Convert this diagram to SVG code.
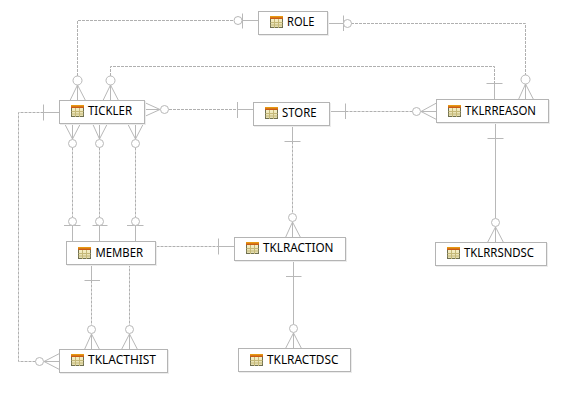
<svg xmlns="http://www.w3.org/2000/svg" width="570" height="411" viewBox="0 0 570 411">
<style>
.box{fill:#fff;stroke:#b4b4b4;stroke-width:1}
.sh{fill:#ececec}
.lbl{font-family:"Noto Sans","Liberation Sans",Arial,sans-serif;font-size:12.5px;fill:#000}
.s{fill:none;stroke:#b8b8b8;stroke-width:1}
.d{fill:none;stroke:#b0b0b0;stroke-width:1;stroke-dasharray:3 1}
.c{fill:#fff;stroke:#b8b8b8;stroke-width:1}
</style>
<defs>
<linearGradient id="hd" x1="0" y1="0" x2="0" y2="1"><stop offset="0" stop-color="#f0a810"/><stop offset="1" stop-color="#c04c18"/></linearGradient>
<linearGradient id="bd" x1="0" y1="0" x2="0" y2="1"><stop offset="0" stop-color="#fbf3c8"/><stop offset="1" stop-color="#e2dcb0"/></linearGradient>
<g id="icon">
<rect x="0.5" y="0.5" width="12" height="11" fill="url(#bd)" stroke="#6f6f50"/>
<rect x="0" y="0" width="13" height="3" fill="url(#hd)"/>
<path d="M0.5 6.5H12.5M0.5 9H12.5M4.5 3V12M8.5 3V12" fill="none" stroke="#c4b878" stroke-width="1"/>
</g>
</defs>
<rect width="570" height="411" fill="#fff"/>
<g id="connectors">
<path class="d" d="M77.5 76V20.5H234"/>
<path class="s" d="M242.5 13.5V28.5M242.5 20.5H258M77.5 85L70 100.5M77.5 85V100.5M77.5 85L85.5 100.5"/>
<circle class="c" cx="238" cy="20.5" r="4"/><circle class="c" cx="77.5" cy="80.5" r="4.5"/>
<path class="d" d="M110.5 76V66.5H494.5V83"/>
<path class="s" d="M486.5 83.5H502.5M494.5 83.5V99.5M110.5 85L103 100.5M110.5 85V100.5M110.5 85L118.5 100.5"/>
<circle class="c" cx="110.5" cy="80.5" r="4.5"/>
<path class="d" d="M351 23.5H525.5V75"/>
<path class="s" d="M327.5 23.5H343.5M343.5 15.5V31M525.5 84L518.5 99.5M525.5 84V99.5M525.5 84L533.5 99.5"/>
<circle class="c" cx="347.5" cy="23.5" r="4"/><circle class="c" cx="525.5" cy="79.5" r="4.5"/>
<path class="d" d="M169 109.5H237.5"/>
<path class="s" d="M144.5 102.5L160 109.5M144.5 109.5H160M144.5 116.5L160 109.5M237.5 102V118M237.5 109.5H253.5"/>
<circle class="c" cx="164.5" cy="109.5" r="4"/>
<path class="d" d="M345.5 111.5H412.5"/>
<path class="s" d="M329.5 111.5H345.5M345.5 103.5V119M421 111.5L436.5 103M421 111.5H436.5M421 111.5L436.5 119.5"/>
<circle class="c" cx="416.5" cy="111.5" r="4"/>
<path class="d" d="M43.5 112.5H18.5V361.5H35.5"/>
<path class="s" d="M43.5 104.5V120.5M43.5 112.5H59.5M44 361.5L59.5 353.5M44 361.5H59.5M44 361.5L59.5 369.5"/>
<circle class="c" cx="39.5" cy="361.5" r="4"/>
<path class="d" d="M72.5 147.5V217.5M99.5 147.5V217.5M135.5 147.5V217.5"/>
<path class="s" d="M72.5 139L64.5 123.5M72.5 139V123.5M72.5 139L80.5 123.5M99.5 139L92.5 123.5M99.5 139V123.5M99.5 139L107.5 123.5M135.5 139L127.5 123.5M135.5 139V123.5M135.5 139L143.5 123.5"/>
<path class="s" d="M64 225.5H80.5M72.5 225.5V241.5M92.5 225.5H107.5M99.5 225.5V241.5M127 225.5H143.5M135.5 225.5V241.5"/>
<circle class="c" cx="72.5" cy="143.5" r="4"/><circle class="c" cx="99.5" cy="143.5" r="4"/><circle class="c" cx="135.5" cy="143.5" r="4"/>
<circle class="c" cx="72.5" cy="221.5" r="4"/><circle class="c" cx="99.5" cy="221.5" r="4"/><circle class="c" cx="135.5" cy="221.5" r="4"/>
<path class="d" d="M156.5 246.5H218.5"/>
<path class="s" d="M218.5 238.5V254.5M218.5 246.5H234.5"/>
<path class="d" d="M91.5 280.5V325.5M129.5 264.5V325.5"/>
<path class="s" d="M91.5 264.5V280.5M84.5 280.5H100M91.5 334L84.5 349.5M91.5 334V349.5M91.5 334L99.5 349.5M129.5 334L121.5 349.5M129.5 334V349.5M129.5 334L137.5 349.5"/>
<circle class="c" cx="91.5" cy="329.5" r="4"/><circle class="c" cx="129.5" cy="329.5" r="4"/>
<path class="d" d="M292.5 141.5V213.5"/>
<path class="s" d="M292.5 125.5V141.5M284.5 141.5H300.5M292.5 222L285.5 237.5M292.5 222V237.5M292.5 222L300.5 237.5"/>
<circle class="c" cx="292.5" cy="217.5" r="4"/>
<path class="s" d="M495.5 122.5V218.5M487.5 138.5H503.5M495.5 227L487.5 242.5M495.5 227V242.5M495.5 227L503.5 242.5"/>
<circle class="c" cx="495.5" cy="222.5" r="4"/>
<path class="s" d="M293.5 260.5V324.5M286 276.5H301.5M293.5 333L285.5 348.5M293.5 333V348.5M293.5 333L301.5 348.5"/>
<circle class="c" cx="293.5" cy="328.5" r="4"/>
</g>
<g id="node-role"><rect class="sh" x="259" y="12" width="70" height="24"/><rect class="box" x="258.5" y="11.5" width="69" height="23"/><use href="#icon" x="270" y="16"/><text class="lbl" x="287" y="26" textLength="27.5" lengthAdjust="spacingAndGlyphs">ROLE</text></g>
<g id="node-tickler"><rect class="sh" x="60" y="101" width="86" height="24"/><rect class="box" x="59.5" y="100.5" width="85" height="23"/><use href="#icon" x="71" y="105"/><text class="lbl" x="88" y="115" textLength="44" lengthAdjust="spacingAndGlyphs">TICKLER</text></g>
<g id="node-store"><rect class="sh" x="254" y="103" width="77" height="24"/><rect class="box" x="253.5" y="102.5" width="76" height="23"/><use href="#icon" x="265" y="107"/><text class="lbl" x="282" y="117" textLength="34.5" lengthAdjust="spacingAndGlyphs">STORE</text></g>
<g id="node-tklrreason"><rect class="sh" x="437" y="100" width="113" height="24"/><rect class="box" x="436.5" y="99.5" width="112" height="23"/><use href="#icon" x="448" y="105"/><text class="lbl" x="465" y="115" textLength="71" lengthAdjust="spacingAndGlyphs">TKLRREASON</text></g>
<g id="node-member"><rect class="sh" x="67" y="242" width="90" height="24"/><rect class="box" x="66.5" y="241.5" width="89" height="23"/><use href="#icon" x="78" y="247"/><text class="lbl" x="95.5" y="257" textLength="47.5" lengthAdjust="spacingAndGlyphs">MEMBER</text></g>
<g id="node-tklraction"><rect class="sh" x="235" y="238" width="112" height="24"/><rect class="box" x="234.5" y="237.5" width="111" height="23"/><use href="#icon" x="246" y="242"/><text class="lbl" x="263" y="252" textLength="70.5" lengthAdjust="spacingAndGlyphs">TKLRACTION</text></g>
<g id="node-tklrrsndsc"><rect class="sh" x="436" y="243" width="112" height="24"/><rect class="box" x="435.5" y="242.5" width="111" height="23"/><use href="#icon" x="447" y="247"/><text class="lbl" x="464" y="257" textLength="70" lengthAdjust="spacingAndGlyphs">TKLRRSNDSC</text></g>
<g id="node-tklacthist"><rect class="sh" x="60" y="350" width="109" height="24"/><rect class="box" x="59.5" y="349.5" width="108" height="23"/><use href="#icon" x="71" y="354"/><text class="lbl" x="88" y="364" textLength="68" lengthAdjust="spacingAndGlyphs">TKLACTHIST</text></g>
<g id="node-tklractdsc"><rect class="sh" x="239" y="349" width="113" height="24"/><rect class="box" x="238.5" y="348.5" width="112" height="23"/><use href="#icon" x="250" y="354"/><text class="lbl" x="267" y="364" textLength="71.5" lengthAdjust="spacingAndGlyphs">TKLRACTDSC</text></g>
</svg>
